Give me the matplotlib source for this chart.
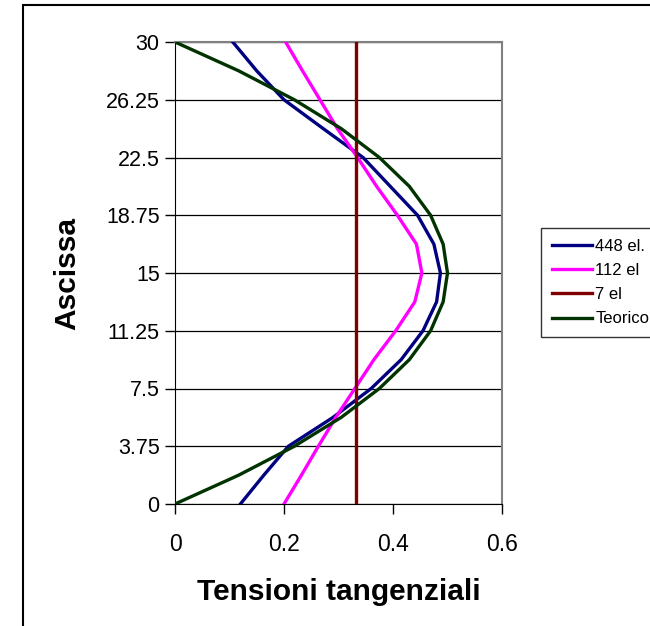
import matplotlib.pyplot as plt
from matplotlib.patches import Rectangle

plt.rcParams['font.family'] = ['Liberation Sans', 'DejaVu Sans']

# ascissa (y) comune a tutte le serie
ascissa = [0, 1.875, 3.75, 5.625, 7.5, 9.375, 11.25, 13.125, 15,
           16.875, 18.75, 20.625, 22.5, 24.375, 26.25, 28.125, 30]

el_448 = [0.12, 0.163, 0.208, 0.29, 0.36, 0.415, 0.455, 0.48, 0.487,
          0.475, 0.445, 0.395, 0.345, 0.272, 0.2, 0.15, 0.106]
el_112 = [0.2, 0.232, 0.263, 0.295, 0.33, 0.365, 0.405, 0.44, 0.453,
          0.443, 0.408, 0.37, 0.335, 0.298, 0.266, 0.234, 0.203]
el_7 = [0.333, 0.333]
ascissa_7 = [0, 30]
teorico = [0, 0.117, 0.219, 0.305, 0.375, 0.43, 0.469, 0.492, 0.5,
           0.492, 0.469, 0.43, 0.375, 0.305, 0.219, 0.117, 0]

yticks = [0, 3.75, 7.5, 11.25, 15, 18.75, 22.5, 26.25, 30]
ytick_labels = ['0', '3.75', '7.5', '11.25', '15', '18.75', '22.5', '26.25', '30']
xticks = [0, 0.2, 0.4, 0.6]
xtick_labels = ['0', '0.2', '0.4', '0.6']

fig = plt.figure(figsize=(6.5, 6.26), dpi=100)
W, H = 650, 626
ax = fig.add_axes([175 / W, 1 - 504 / H, (502 - 175) / W, (504 - 42) / H])

# bordo esterno del grafico (tagliato a destra e in basso)
fig.patches.append(Rectangle((23 / W, -0.1), 1.2, 1 - 5 / H + 0.1,
                             transform=fig.transFigure, fill=False,
                             edgecolor='black', linewidth=1.5))

for y in yticks:
    ax.axhline(y, color='black', linewidth=0.9, zorder=1)

ax.plot(el_448, ascissa, color='#000080', linewidth=2.4, label='448 el.', zorder=3)
ax.plot(el_112, ascissa, color='#FF00FF', linewidth=2.4, label='112 el', zorder=3)
ax.plot(el_7, ascissa_7, color='#800000', linewidth=2.4, label='7 el', zorder=3)
ax.plot(teorico, ascissa, color='#003300', linewidth=2.4, label='Teorico', zorder=3)

ax.set_xlim(0, 0.6)
ax.set_ylim(0, 30)
ax.set_xticks(xticks)
ax.set_xticklabels(xtick_labels, fontsize=16.5)
ax.set_yticks(yticks)
ax.set_yticklabels(ytick_labels, fontsize=15.5)
ax.tick_params(direction='out', length=7, width=1)
ax.tick_params(axis='y', pad=4)
ax.tick_params(axis='x', pad=14)

ax.spines['left'].set_color('black')
ax.spines['bottom'].set_color('black')
ax.spines['top'].set_color('#808080')
ax.spines['right'].set_color('#808080')
ax.spines['top'].set_linewidth(1.5)
ax.spines['right'].set_linewidth(1.5)

ax.set_xlabel('Tensioni tangenziali', fontsize=21.5, fontweight='bold', labelpad=16)
ax.set_ylabel('Ascissa', fontsize=21.5, fontweight='bold', labelpad=18)

leg = ax.legend(loc='upper left', bbox_to_anchor=(541 / W, 1 - 228 / H),
                bbox_transform=fig.transFigure, fontsize=12, frameon=True,
                fancybox=False, edgecolor='black', borderpad=0.65,
                handlelength=2.4, handletextpad=0.2, labelspacing=0.55,
                borderaxespad=0)
leg.get_frame().set_linewidth(1)

fig.savefig('out.png', dpi=100)
